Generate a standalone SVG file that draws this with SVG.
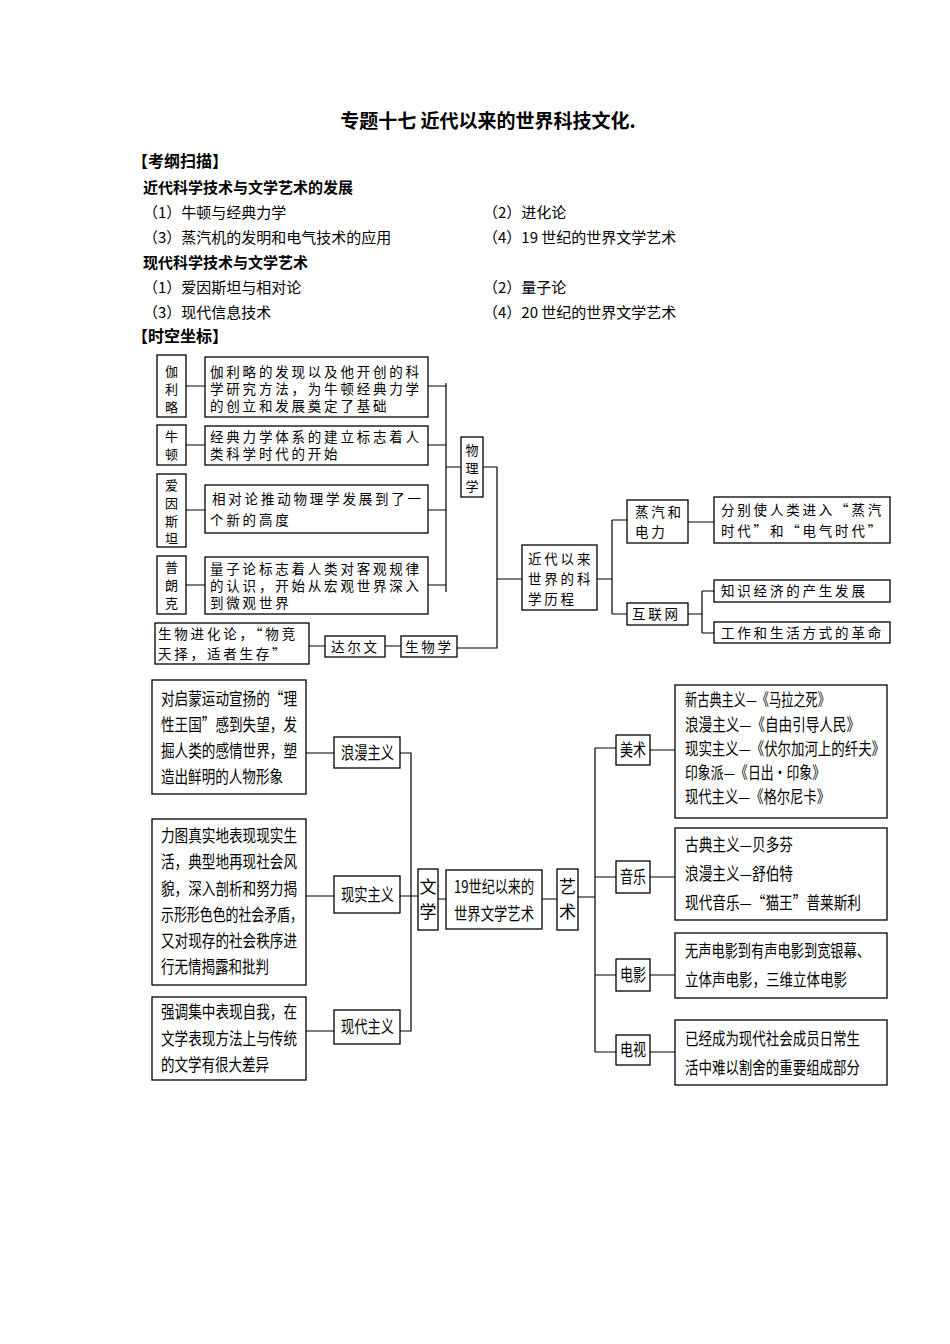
<svg xmlns="http://www.w3.org/2000/svg" width="950" height="1344" viewBox="0 0 950 1344">
<style>
text{font-family:"Noto Sans CJK SC","Noto Sans CJK JP",sans-serif;fill:#000}
.h{font-weight:bold;font-size:16px}
.b{font-size:15px}
.s{font-size:13.5px;letter-spacing:2.8px}
.v{font-size:13px;text-anchor:middle}
.m{font-size:17px}
rect{fill:#fff;stroke:#000;stroke-width:1.3}
.c path{fill:none;stroke:#000;stroke-width:1.2}
</style>
<rect x="0" y="0" width="950" height="1344" style="stroke:none"/>
<text x="488" y="128" text-anchor="middle" style="font-size:19px;font-weight:bold">专题十七  近代以来的世界科技文化.</text>
<text x="132" y="167" class="h">【考纲扫描】</text>
<text x="143" y="193" class="h" style="font-size:15px">近代科学技术与文学艺术的发展</text>
<text x="143" y="218" class="b">（1）牛顿与经典力学</text>
<text x="483" y="218" class="b">（2）进化论</text>
<text x="143" y="243" class="b">（3）蒸汽机的发明和电气技术的应用</text>
<text x="483" y="243" class="b">（4）19 世纪的世界文学艺术</text>
<text x="143" y="268" class="h" style="font-size:15px">现代科学技术与文学艺术</text>
<text x="143" y="293" class="b">（1）爱因斯坦与相对论</text>
<text x="483" y="293" class="b">（2）量子论</text>
<text x="143" y="318" class="b">（3）现代信息技术</text>
<text x="483" y="318" class="b">（4）20 世纪的世界文学艺术</text>
<text x="132" y="342" class="h">【时空坐标】</text>

<g class="c">
<path d="M186 386H205M186 445H205M186 510H205M186 585H205"/>
<path d="M428 386H446M428 445H446M428 510H446M428 585H446M446 383V592M446 467H461"/>
<path d="M483 467H497V648H457M497 579H522M309 646H325M385 646H401"/>
<path d="M597 579H612M612 520V614M612 520H627M612 614H627M688 522H714M688 614H702M702 591V633M702 591H714M702 633H714"/>
<path d="M306 753H334M306 896H334M306 1031H334M400 753H411V1031H400M400 896H418M438 899H446M542 899H557M578 897H595"/>
<path d="M595 748V1052M595 748H616M650 750H675M595 877H616M650 877H675M595 975H616M650 975H675M595 1052H616M650 1052H675"/>
</g>

<g id="galileo"><rect x="157" y="355" width="29" height="62"/><text class="v" x="171.5" y="376">伽</text><text class="v" x="171.5" y="394">利</text><text class="v" x="171.5" y="412">略</text></g>
<g id="galileo-d"><rect x="205" y="357" width="223" height="60"/><text class="s" x="210" y="377">伽利略的发现以及他开创的科</text><text class="s" x="210" y="394">学研究方法，为牛顿经典力学</text><text class="s" x="210" y="411">的创立和发展奠定了基础</text></g>
<g id="newton"><rect x="157" y="425" width="29" height="40"/><text class="v" x="171.5" y="441">牛</text><text class="v" x="171.5" y="459">顿</text></g>
<g id="newton-d"><rect x="205" y="426" width="223" height="39"/><text class="s" x="210" y="442">经典力学体系的建立标志着人</text><text class="s" x="210" y="459">类科学时代的开始</text></g>
<g id="einstein"><rect x="157" y="474" width="29" height="73"/><text class="v" x="171.5" y="490">爱</text><text class="v" x="171.5" y="508">因</text><text class="v" x="171.5" y="526">斯</text><text class="v" x="171.5" y="543">坦</text></g>
<g id="einstein-d"><rect x="205" y="485" width="223" height="48"/><text class="s" x="212" y="504">相对论推动物理学发展到了一</text><text class="s" x="210" y="525">个新的高度</text></g>
<g id="planck"><rect x="157" y="556" width="29" height="58"/><text class="v" x="171.5" y="572">普</text><text class="v" x="171.5" y="590">朗</text><text class="v" x="171.5" y="608">克</text></g>
<g id="planck-d"><rect x="205" y="557" width="223" height="57"/><text class="s" x="210" y="574">量子论标志着人类对客观规律</text><text class="s" x="210" y="591">的认识，开始从宏观世界深入</text><text class="s" x="210" y="608">到微观世界</text></g>
<g id="physics"><rect x="461" y="437" width="22" height="60"/><text class="v" x="472" y="455">物</text><text class="v" x="472" y="473">理</text><text class="v" x="472" y="491">学</text></g>
<g id="evo"><rect x="155" y="623" width="154" height="41"/><text class="s" x="158" y="639">生物进化论，“物竞</text><text class="s" x="158" y="659">天择，适者生存”</text></g>
<g id="darwin"><rect x="325" y="636" width="60" height="21"/><text class="s" x="331" y="652">达尔文</text></g>
<g id="bio"><rect x="401" y="636" width="56" height="21"/><text class="s" x="405" y="652">生物学</text></g>
<g id="modern"><rect x="522" y="545" width="75" height="65"/><text class="s" x="528" y="564">近代以来</text><text class="s" x="528" y="584">世界的科</text><text class="s" x="528" y="604">学历程</text></g>
<g id="steam"><rect x="627" y="500" width="61" height="43"/><text class="s" x="635" y="517">蒸汽和</text><text class="s" x="635" y="537">电力</text></g>
<g id="steam-d"><rect x="714" y="497" width="176" height="46"/><text class="s" x="721" y="515">分别使人类进入“蒸汽</text><text class="s" x="721" y="536">时代”和“电气时代”</text></g>
<g id="internet"><rect x="627" y="603" width="61" height="22"/><text class="s" x="632" y="619">互联网</text></g>
<g id="know"><rect x="714" y="580" width="176" height="22"/><text class="s" x="721" y="596">知识经济的产生发展</text></g>
<g id="work"><rect x="714" y="622" width="176" height="21"/><text class="s" x="721" y="638">工作和生活方式的革命</text></g>

<g id="romA"><rect x="152" y="680" width="154" height="114"/><text class="m" x="161" y="705" textLength="136" lengthAdjust="spacingAndGlyphs">对启蒙运动宣扬的“理</text><text class="m" x="161" y="731" textLength="136" lengthAdjust="spacingAndGlyphs">性王国”感到失望，发</text><text class="m" x="161" y="757" textLength="136" lengthAdjust="spacingAndGlyphs">掘人类的感情世界，塑</text><text class="m" x="161" y="783" textLength="122" lengthAdjust="spacingAndGlyphs">造出鲜明的人物形象</text></g>
<g id="rom"><rect x="334" y="737" width="66" height="31"/><text class="m" x="341" y="759" textLength="53" lengthAdjust="spacingAndGlyphs">浪漫主义</text></g>
<g id="realA"><rect x="152" y="819" width="154" height="166"/><text class="m" x="161" y="842" textLength="136" lengthAdjust="spacingAndGlyphs">力图真实地表现现实生</text><text class="m" x="161" y="868" textLength="136" lengthAdjust="spacingAndGlyphs">活，典型地再现社会风</text><text class="m" x="161" y="895" textLength="136" lengthAdjust="spacingAndGlyphs">貌，深入剖析和努力揭</text><text class="m" x="161" y="921" textLength="142" lengthAdjust="spacingAndGlyphs">示形形色色的社会矛盾，</text><text class="m" x="161" y="947" textLength="136" lengthAdjust="spacingAndGlyphs">又对现存的社会秩序进</text><text class="m" x="161" y="973" textLength="108" lengthAdjust="spacingAndGlyphs">行无情揭露和批判</text></g>
<g id="real"><rect x="334" y="876" width="66" height="37"/><text class="m" x="341" y="901" textLength="53" lengthAdjust="spacingAndGlyphs">现实主义</text></g>
<g id="modA"><rect x="152" y="997" width="154" height="83"/><text class="m" x="161" y="1018" textLength="136" lengthAdjust="spacingAndGlyphs">强调集中表现自我，在</text><text class="m" x="161" y="1045" textLength="136" lengthAdjust="spacingAndGlyphs">文学表现方法上与传统</text><text class="m" x="161" y="1071" textLength="108" lengthAdjust="spacingAndGlyphs">的文学有很大差异</text></g>
<g id="mod"><rect x="334" y="1010" width="66" height="34"/><text class="m" x="341" y="1033" textLength="53" lengthAdjust="spacingAndGlyphs">现代主义</text></g>
<g id="lit"><rect x="418" y="869" width="20" height="61"/><text class="m" x="428" y="893" text-anchor="middle">文</text><text class="m" x="428" y="918" text-anchor="middle">学</text></g>
<g id="c19"><rect x="446" y="870" width="96" height="59"/><text class="m" x="454" y="893" textLength="80" lengthAdjust="spacingAndGlyphs">19世纪以来的</text><text class="m" x="454" y="920" textLength="80" lengthAdjust="spacingAndGlyphs">世界文学艺术</text></g>
<g id="art"><rect x="557" y="869" width="21" height="61"/><text class="m" x="567.5" y="893" text-anchor="middle">艺</text><text class="m" x="567.5" y="918" text-anchor="middle">术</text></g>
<g id="fine"><rect x="616" y="735" width="34" height="30"/><text class="m" x="620" y="756" textLength="26" lengthAdjust="spacingAndGlyphs">美术</text></g>
<g id="fine-d"><rect x="675" y="685" width="212" height="133"/><text class="m" x="685" y="706" textLength="145" lengthAdjust="spacingAndGlyphs">新古典主义—《马拉之死》</text><text class="m" x="685" y="731" textLength="175" lengthAdjust="spacingAndGlyphs">浪漫主义—《自由引导人民》</text><text class="m" x="685" y="755" textLength="200" lengthAdjust="spacingAndGlyphs">现实主义—《伏尔加河上的纤夫》</text><text class="m" x="685" y="779" textLength="140" lengthAdjust="spacingAndGlyphs">印象派—《日出·印象》</text><text class="m" x="685" y="803" textLength="145" lengthAdjust="spacingAndGlyphs">现代主义—《格尔尼卡》</text></g>
<g id="music"><rect x="616" y="861" width="34" height="32"/><text class="m" x="620" y="883" textLength="26" lengthAdjust="spacingAndGlyphs">音乐</text></g>
<g id="music-d"><rect x="675" y="828" width="212" height="92"/><text class="m" x="685" y="851" textLength="108" lengthAdjust="spacingAndGlyphs">古典主义—贝多芬</text><text class="m" x="685" y="880" textLength="108" lengthAdjust="spacingAndGlyphs">浪漫主义—舒伯特</text><text class="m" x="685" y="909" textLength="176" lengthAdjust="spacingAndGlyphs">现代音乐—“猫王”普莱斯利</text></g>
<g id="film"><rect x="616" y="959" width="34" height="32"/><text class="m" x="620" y="981" textLength="26" lengthAdjust="spacingAndGlyphs">电影</text></g>
<g id="film-d"><rect x="675" y="933" width="212" height="65"/><text class="m" x="685" y="957" textLength="185" lengthAdjust="spacingAndGlyphs">无声电影到有声电影到宽银幕、</text><text class="m" x="685" y="986" textLength="162" lengthAdjust="spacingAndGlyphs">立体声电影，三维立体电影</text></g>
<g id="tv"><rect x="616" y="1035" width="34" height="30"/><text class="m" x="620" y="1056" textLength="26" lengthAdjust="spacingAndGlyphs">电视</text></g>
<g id="tv-d"><rect x="675" y="1020" width="212" height="65"/><text class="m" x="685" y="1045" textLength="175" lengthAdjust="spacingAndGlyphs">已经成为现代社会成员日常生</text><text class="m" x="685" y="1074" textLength="175" lengthAdjust="spacingAndGlyphs">活中难以割舍的重要组成部分</text></g>
</svg>
